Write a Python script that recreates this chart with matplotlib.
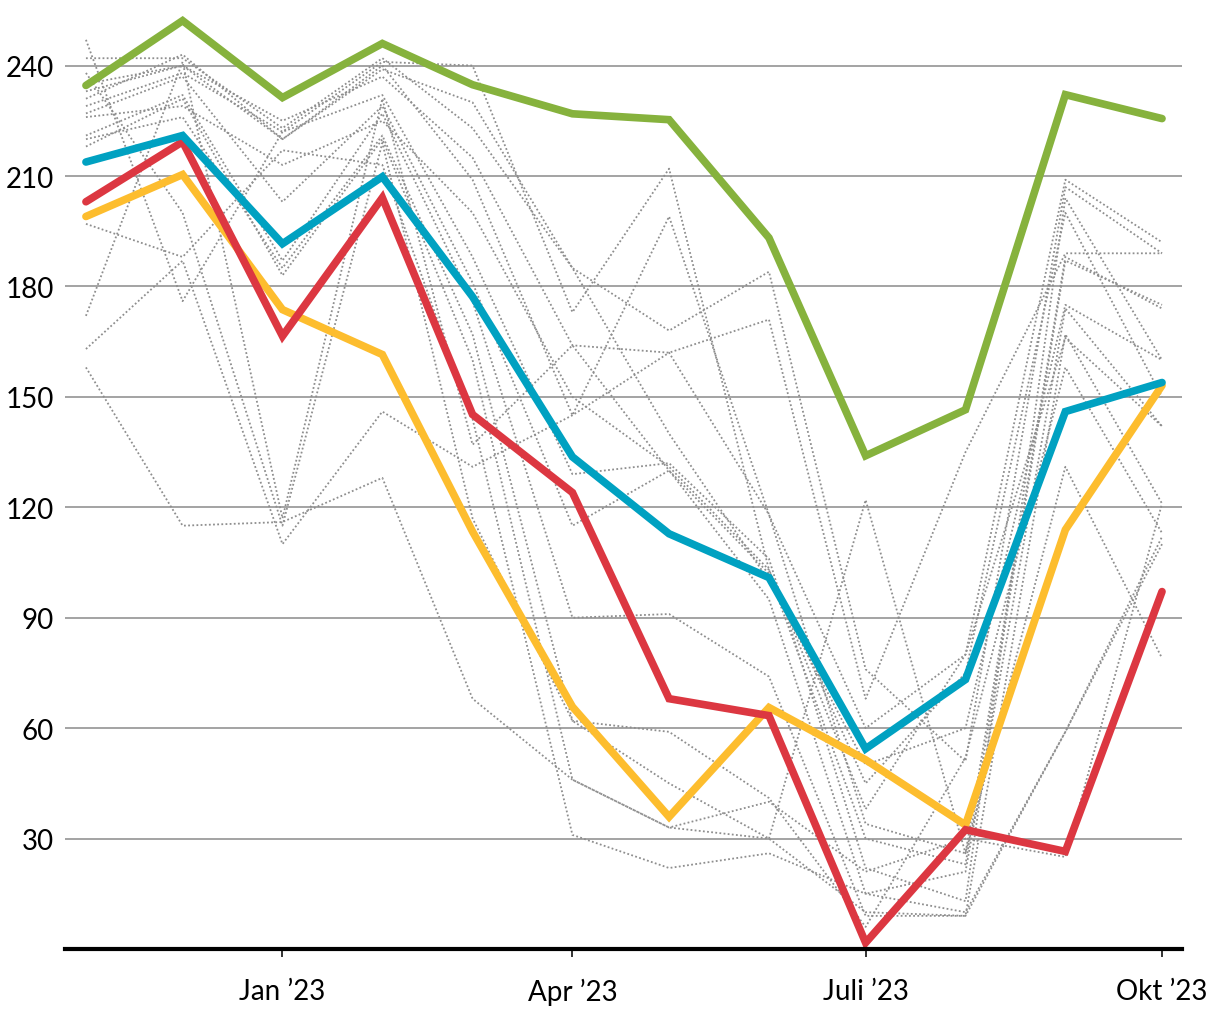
import matplotlib
matplotlib.use("Agg")
import matplotlib.pyplot as plt
import numpy as np
import pandas as pd

plt.rcParams['font.family'] = ['Lato', 'DejaVu Sans']

# months Nov '22 .. Okt '23
months = pd.date_range("2022-11-01", "2023-10-01", freq="MS")

# highlighted series
green = [234.6, 252.2, 231.3, 246.0, 234.8, 226.9, 225.3, 193.2, 134.0, 146.5, 232.1, 225.6]
blue = [213.8, 221.0, 191.6, 209.8, 177.2, 133.7, 112.8, 100.9, 54.4, 73.2, 146.0, 153.9]
red = [203.0, 219.3, 166.5, 204.1, 145.2, 124.0, 68.0, 63.4, 1.7, 32.4, 26.5, 97.1]
yellow = [199.0, 210.4, 173.7, 161.5, 113.4, 65.8, 35.9, 65.6, 51.4, 33.7, 113.9, 153.1]

# background series (grey, dotted)
grey_series = [
    [247, 176, 222, 241, 240, 173, 212, 103, 38, 80, 209, 192],
    [242, 242, 223, 242, 223, 185, 168, 184, 76, 51, 207, 189],
    [233, 240, 225, 237, 215, 164, 162, 171, 68, 135, 189, 189],
    [231, 243, 220, 240, 209, 145, 199, 118, 34, 26, 188, 174],
    [229, 238, 222, 232, 188, 129, 132, 106, 22, 13, 204, 160],
    [227, 237, 203, 229, 181, 115, 130, 95, 15, 21, 174, 142],
    [221, 232, 187, 227, 176, 90, 91, 74, 9, 9, 167, 121],
    [220, 226, 185, 221, 167, 62, 59, 41, 6, 52, 158, 113],
    [218, 231, 183, 220, 160, 46, 33, 30, 122, 26, 131, 79],
    [197, 188, 217, 213, 144, 31, 22, 26, 15, 10, 59, 112],
    [172, 241, 117, 231, 137, 164, 130, 102, 30, 23, 187, 175],
    [163, 187, 110, 146, 131, 145, 162, 118, 60, 80, 166, 142],
    [158, 115, 116, 128, 68, 46, 33, 40, 21, 30, 25, 121],
    [238, 200, 115, 219, 117, 62, 45, 30, 10, 9, 59, 110],
    [226, 229, 213, 225, 200, 150, 131, 103, 45, 75, 200, 150],
    [235, 240, 220, 239, 230, 185, 140, 100, 50, 60, 175, 160],
]

yticks = [30, 60, 90, 120, 150, 180, 210, 240]
xtick_dates = ["2023-01-01", "2023-04-01", "2023-07-01", "2023-10-01"]
xtick_labels = ["Jan \u201923", "Apr \u201923", "Juli \u201923", "Okt \u201923"]

fig = plt.figure(figsize=(12.2, 10.2), dpi=100)
ax = fig.add_axes([65 / 1220, 70 / 1020, 1117 / 1220, 946 / 1020])

for s in grey_series:
    ax.plot(months, s, color="#8e8e8e", lw=1.3, ls=(0, (1, 1.3)), zorder=2)

for vals, col in [(green, "#86b23d"), (yellow, "#fdbd2e"), (red, "#dc3741"), (blue, "#00a1c1")]:
    ax.plot(months, vals, color=col, lw=5.5, solid_capstyle="round",
            solid_joinstyle="miter", zorder=3)

ax.set_ylim(0, 257)
ax.set_xlim(months[0] - pd.Timedelta(days=6.5), months[-1] + pd.Timedelta(days=6.2))

ax.set_yticks(yticks)
ax.set_yticklabels([str(v) for v in yticks])
ax.yaxis.grid(True, color="#8a8a8a", lw=1.1)
ax.set_axisbelow(True)
ax.tick_params(axis="y", length=0, pad=8, labelsize=20)

ax.set_xticks(pd.to_datetime(xtick_dates))
ax.set_xticklabels(xtick_labels)
ax.tick_params(axis="x", length=6, width=1.4, color="#333333", pad=15, labelsize=20)

for side in ["top", "right", "left"]:
    ax.spines[side].set_visible(False)
ax.spines["bottom"].set_linewidth(3)
ax.spines["bottom"].set_color("black")
ax.spines["bottom"].set_zorder(4)

fig.savefig("out.png", dpi=100)
